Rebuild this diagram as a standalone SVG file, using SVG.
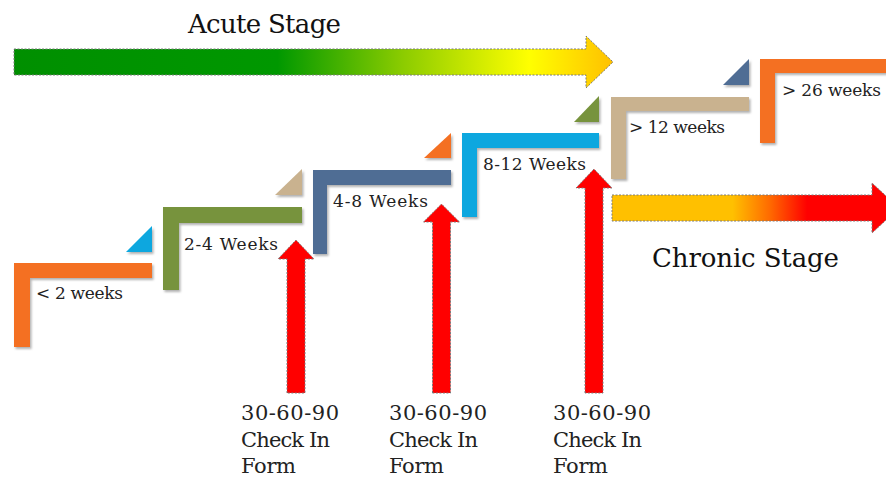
<svg xmlns="http://www.w3.org/2000/svg" width="886" height="478" viewBox="0 0 886 478">
<style>
  .lbl { font-family: "DejaVu Serif", "Liberation Serif", serif; font-size: 17px; fill: #222; }
  .big { font-family: "DejaVu Serif", "Liberation Serif", serif; font-size: 26px; fill: #111; }
  .form { font-family: "DejaVu Serif", "Liberation Serif", serif; font-size: 21px; fill: #222; }
  .stage { stroke: #7a7a7a; stroke-width: 1; stroke-dasharray: 2 1.5; }
  .red { fill: #ff0000; stroke: #7a7a7a; stroke-width: 1; stroke-dasharray: 2 1.5; }
  .orange { fill: #f46f21; }
  .olive { fill: #77933c; }
  .slate { fill: #4f6d94; }
  .cyan { fill: #0aa7df; }
  .tan { fill: #c9b28f; }
  .shape { filter: url(#sh); }
</style>
<defs>
  <filter id="sh" x="-20%" y="-20%" width="150%" height="150%">
    <feDropShadow dx="1.5" dy="2" stdDeviation="1.2" flood-color="#000" flood-opacity="0.3"/>
  </filter>
  <linearGradient id="gAcute" gradientUnits="userSpaceOnUse" x1="14" y1="0" x2="613" y2="0">
    <stop offset="0" stop-color="#008f00"/>
    <stop offset="0.44" stop-color="#009800"/>
    <stop offset="0.65" stop-color="#8ccc00"/>
    <stop offset="0.86" stop-color="#ffff00"/>
    <stop offset="1" stop-color="#ffc000"/>
  </linearGradient>
  <linearGradient id="gChronic" gradientUnits="userSpaceOnUse" x1="612" y1="0" x2="899" y2="0">
    <stop offset="0" stop-color="#ffc000"/>
    <stop offset="0.42" stop-color="#ffc000"/>
    <stop offset="0.55" stop-color="#ff6a00"/>
    <stop offset="0.68" stop-color="#ff0000"/>
    <stop offset="1" stop-color="#ff0000"/>
  </linearGradient>
</defs>

<g id="acute-stage">
  <path class="stage" fill="url(#gAcute)" d="M14,49 H586 V36 L613,62 L586,88 V75 H14 Z"/>
  <text class="big" x="188" y="33" textLength="153">Acute Stage</text>
</g>

<g id="chronic-stage">
  <path class="stage" fill="url(#gChronic)" d="M612,195 H872 V183 L899,208 L872,233 V221 H612 Z"/>
  <text class="big" x="652" y="267" textLength="187">Chronic Stage</text>
</g>

<g id="step-lt2">
  <path class="shape orange" d="M14,263 H152 V278 H30 V347 H14 Z"/>
  <text class="lbl" x="36" y="299" textLength="87">&lt; 2 weeks</text>
</g>
<g id="step-2-4">
  <polygon class="shape cyan" points="126,252 152,252 152,226"/>
  <path class="shape olive" d="M163,207 H302 V223 H179 V290 H163 Z"/>
  <text class="lbl" x="184" y="250" textLength="94">2-4 Weeks</text>
</g>
<g id="step-4-8">
  <polygon class="shape tan" points="275,195 302,195 302,169"/>
  <path class="shape slate" d="M313,170 H451 V185 H327 V254 H313 Z"/>
  <text class="lbl" x="333" y="207" textLength="95">4-8 Weeks</text>
</g>
<g id="step-8-12">
  <polygon class="shape orange" points="424,158 451,158 451,133"/>
  <path class="shape cyan" d="M462,133 H599 V148 H477 V217 H462 Z"/>
  <text class="lbl" x="483" y="170" textLength="103">8-12 Weeks</text>
</g>
<g id="step-gt12">
  <polygon class="shape olive" points="574,122 599,122 599,96"/>
  <path class="shape tan" d="M611,97 H749 V111 H626 V179 H611 Z"/>
  <text class="lbl" x="629" y="133" textLength="96">&gt; 12 weeks</text>
</g>
<g id="step-gt26">
  <polygon class="shape slate" points="723,85 749,85 749,59"/>
  <path class="shape orange" d="M760,59 H890 V73 H775 V143 H760 Z"/>
  <text class="lbl" x="782" y="96" textLength="99">&gt; 26 weeks</text>
</g>

<g id="connectors">
  <path class="red" d="M287,393 V259 H278 L296,240 L314,259 H305 V393 Z"/>
  <path class="red" d="M432.5,393 V222 H423.5 L441.5,204 L459.5,222 H450.5 V393 Z"/>
  <path class="red" d="M585,393 V188 H576 L594,169 L612,188 H603 V393 Z"/>
</g>

<g id="form-1">
  <text class="form" x="241" y="420" textLength="98">30-60-90</text>
  <text class="form" x="241" y="447" textLength="89">Check In</text>
  <text class="form" x="241" y="473" textLength="55">Form</text>
</g>
<g id="form-2">
  <text class="form" x="389" y="420" textLength="98">30-60-90</text>
  <text class="form" x="389" y="447" textLength="89">Check In</text>
  <text class="form" x="389" y="473" textLength="55">Form</text>
</g>
<g id="form-3">
  <text class="form" x="553" y="420" textLength="98">30-60-90</text>
  <text class="form" x="553" y="447" textLength="89">Check In</text>
  <text class="form" x="553" y="473" textLength="55">Form</text>
</g>
</svg>
